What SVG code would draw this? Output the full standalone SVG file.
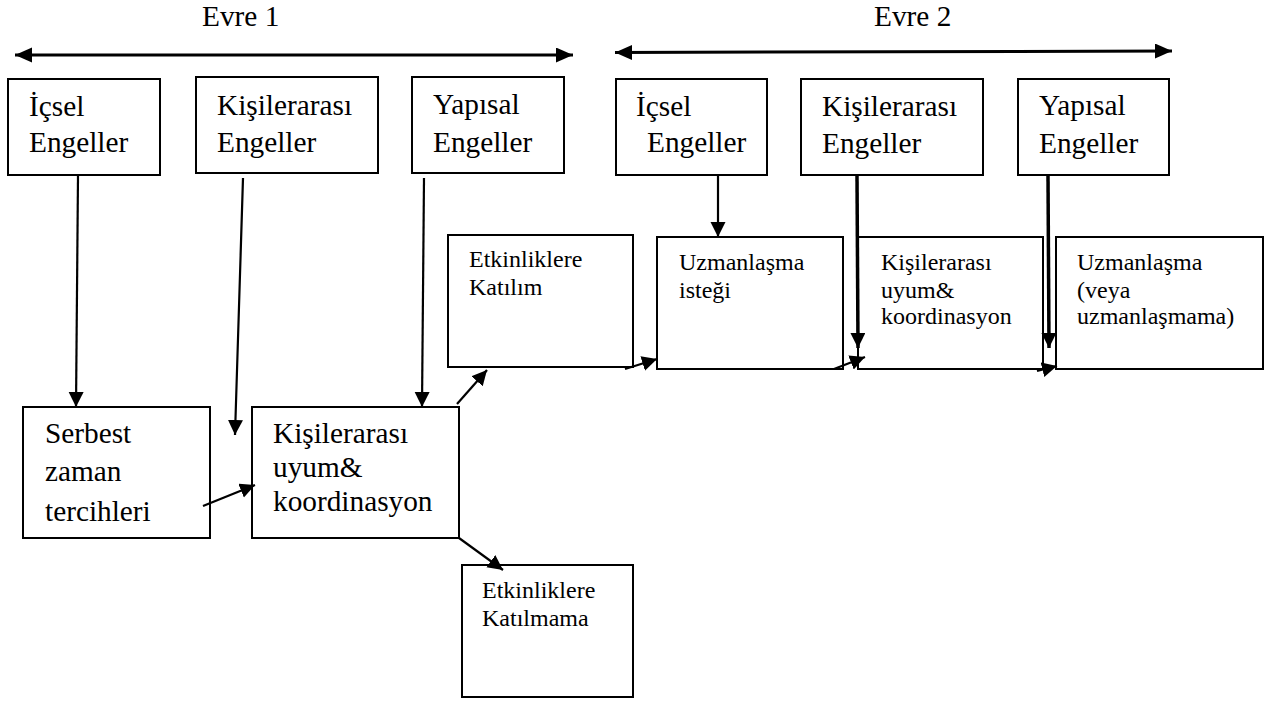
<svg xmlns="http://www.w3.org/2000/svg" width="1277" height="702" viewBox="0 0 1277 702">
<style>
  .box { fill: #fff; stroke: #000; stroke-width: 2; }
  .t { font-family: 'Liberation Serif', 'DejaVu Serif', serif; font-size: 29.3px; fill: #000; }
  .s { font-family: 'Liberation Serif', 'DejaVu Serif', serif; font-size: 24px; fill: #000; }
  .c { stroke: #000; stroke-width: 2.2; fill: none; marker-end: url(#ah); }
  .ck { stroke: #000; stroke-width: 3.5; fill: none; marker-end: url(#ah); }
  .ph { stroke: #000; stroke-width: 3; fill: none; marker-start: url(#ah2); marker-end: url(#ah2); }
</style>
<defs>
  <marker id="ah" markerUnits="userSpaceOnUse" markerWidth="16" markerHeight="16" refX="15" refY="7.5" orient="auto">
    <path d="M0,0 L15,7.5 L0,15 z" fill="#000"/>
  </marker>
  <marker id="ah2" markerUnits="userSpaceOnUse" markerWidth="18" markerHeight="16" refX="17" refY="7.5" orient="auto-start-reverse">
    <path d="M0,0 L17,7.5 L0,15 z" fill="#000"/>
  </marker>
</defs>
<rect width="1277" height="702" fill="#fff"/>

<g font-family="Liberation Serif, serif">
<g id="phase1">
  <text class="t" x="202" y="26">Evre 1</text>
</g>
<g id="phase2">
  <text class="t" x="874" y="26">Evre 2</text>
</g>

<g id="n-icsel1">
  <rect class="box" x="8" y="79" width="152" height="96"/>
  <text class="t" x="29" y="116">İçsel</text>
  <text class="t" x="29" y="152">Engeller</text>
</g>
<g id="n-kisi1">
  <rect class="box" x="196" y="77" width="182" height="96"/>
  <text class="t" x="217" y="115">Kişilerarası</text>
  <text class="t" x="217" y="152">Engeller</text>
</g>
<g id="n-yapisal1">
  <rect class="box" x="412" y="77" width="152" height="96"/>
  <text class="t" x="433" y="114">Yapısal</text>
  <text class="t" x="433" y="152">Engeller</text>
</g>
<g id="n-icsel2">
  <rect class="box" x="616" y="79" width="151" height="96"/>
  <text class="t" x="636" y="116">İçsel</text>
  <text class="t" x="647" y="152">Engeller</text>
</g>
<g id="n-kisi2">
  <rect class="box" x="801" y="79" width="182" height="96"/>
  <text class="t" x="822" y="116">Kişilerarası</text>
  <text class="t" x="822" y="153">Engeller</text>
</g>
<g id="n-yapisal2">
  <rect class="box" x="1018" y="79" width="151" height="96"/>
  <text class="t" x="1039" y="115">Yapısal</text>
  <text class="t" x="1039" y="153">Engeller</text>
</g>

<g id="n-serbest">
  <rect class="box" x="23" y="407" width="187" height="131"/>
  <text class="t" x="45" y="443">Serbest</text>
  <text class="t" x="45" y="481">zaman</text>
  <text class="t" x="45" y="521">tercihleri</text>
</g>
<g id="n-uyum1">
  <rect class="box" x="252" y="407" width="207" height="131"/>
  <text class="t" x="273" y="443">Kişilerarası</text>
  <text class="t" x="273" y="477">uyum&amp;</text>
  <text class="t" x="273" y="511">koordinasyon</text>
</g>
<g id="n-katilim">
  <rect class="box" x="448" y="235" width="185" height="132"/>
  <text class="s" x="469" y="267">Etkinliklere</text>
  <text class="s" x="469" y="295">Katılım</text>
</g>
<g id="n-katilmama">
  <rect class="box" x="462" y="565" width="171" height="132"/>
  <text class="s" x="482" y="598">Etkinliklere</text>
  <text class="s" x="482" y="626">Katılmama</text>
</g>
<g id="n-istek">
  <rect class="box" x="657" y="237" width="186" height="132"/>
  <text class="s" x="679" y="270">Uzmanlaşma</text>
  <text class="s" x="679" y="298">isteği</text>
</g>
<g id="n-uyum2">
  <rect class="box" x="858" y="237" width="185" height="132"/>
  <text class="s" x="881" y="270">Kişilerarası</text>
  <text class="s" x="881" y="298">uyum&amp;</text>
  <text class="s" x="881" y="324">koordinasyon</text>
</g>
<g id="n-uzman">
  <rect class="box" x="1056" y="237" width="207" height="132"/>
  <text class="s" x="1077" y="270">Uzmanlaşma</text>
  <text class="s" x="1077" y="298">(veya</text>
  <text class="s" x="1077" y="324">uzmanlaşmama)</text>
</g>
</g>

<g id="connectors">
  <line class="ph" x1="15" y1="55" x2="573" y2="55"/>
  <line class="ph" x1="615" y1="52.5" x2="1172" y2="51"/>
  <line class="c" x1="78" y1="176" x2="76" y2="407"/>
  <line class="c" x1="243" y1="178" x2="235" y2="435"/>
  <line class="c" x1="424" y1="178" x2="422" y2="407"/>
  <line class="c" x1="718" y1="176" x2="718" y2="237"/>
  <line class="ck" x1="857" y1="176" x2="858" y2="348"/>
  <line class="ck" x1="1048" y1="176" x2="1049" y2="348"/>
  <line class="c" x1="203" y1="506" x2="255" y2="485"/>
  <line class="c" x1="457" y1="404" x2="487" y2="370"/>
  <line class="c" x1="459" y1="538" x2="503" y2="570"/>
  <line class="c" x1="625" y1="369" x2="657" y2="359"/>
  <line class="c" x1="834" y1="369" x2="865" y2="357"/>
  <line class="c" x1="1037" y1="371" x2="1057" y2="366"/>
</g>
</svg>
